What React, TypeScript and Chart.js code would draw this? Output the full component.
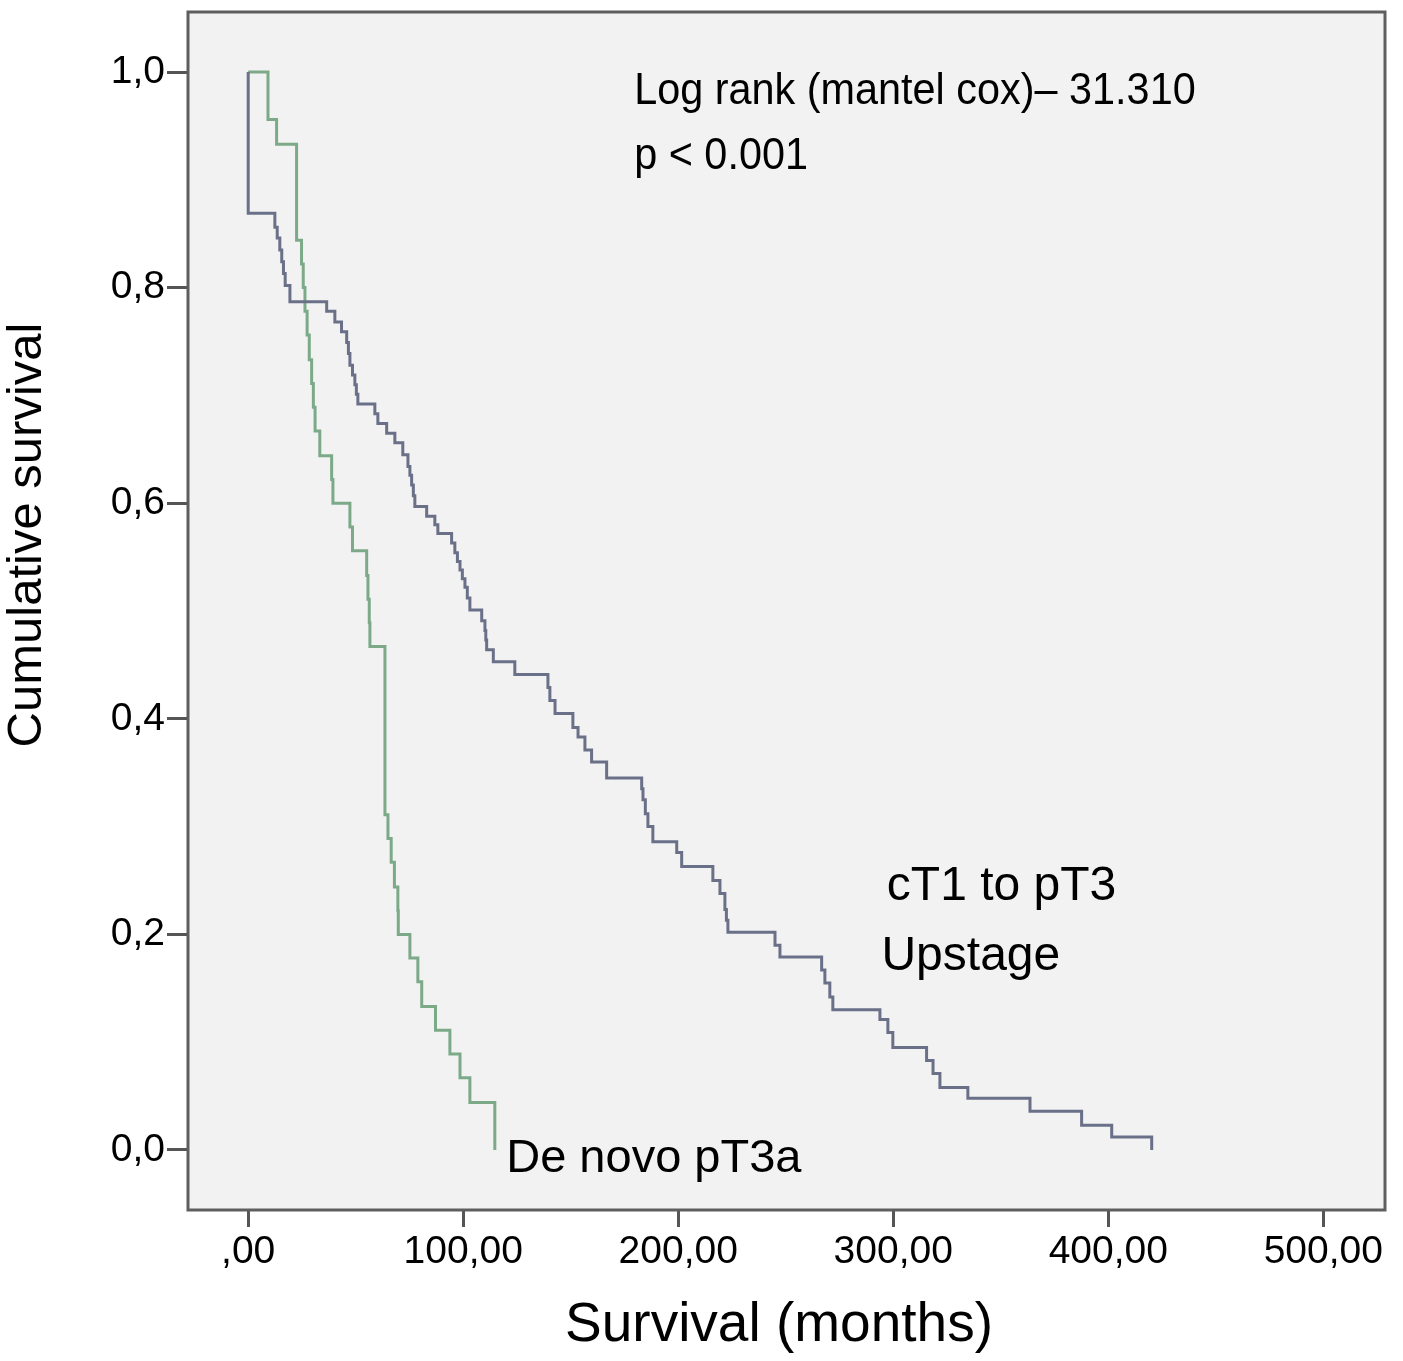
import { useEffect, useRef } from "react";
import { Chart, registerables } from "chart.js";

Chart.register(...registerables);

const FONT = '"Liberation Sans", Arial, Helvetica, sans-serif';

// axis ticks
const xTicks = [0, 100, 200, 300, 400, 500];
const xTickLabels = [",00", "100,00", "200,00", "300,00", "400,00", "500,00"];
const yTicks = [0, 0.2, 0.4, 0.6, 0.8, 1.0];
const yTickLabels = ["0,0", "0,2", "0,4", "0,6", "0,8", "1,0"];

// cT1 to pT3 upstage (months, cumulative survival)
const upstageTimes = [
  0, 0, 12.4, 13.5, 14.7, 15.6, 16.4, 17.2, 19.4, 36.5, 40.3, 43.4, 45.8, 46.6,
  47.3, 48.5, 49.6, 50.3, 51.0, 58.9, 60.3, 64.4, 68.2, 71.9, 74.3, 75.2, 76.0,
  76.8, 77.5, 83.0, 86.8, 88.2, 94.6, 96.1, 97.3, 98.5, 99.6, 100.8, 101.9,
  103.1, 108.6, 110.1, 110.5, 110.9, 114.0, 124.0, 139.4, 140.3, 142.7, 151.0,
  153.4, 156.6, 159.7, 166.7, 183.0, 183.6, 184.7, 185.9, 188.2, 199.3, 201.6,
  216.1, 219.4, 221.7, 222.4, 223.1, 245.0, 247.3, 266.7, 268.2, 270.5, 271.9,
  293.8, 297.5, 299.8, 315.5, 318.5, 321.7, 334.7, 363.6, 387.6, 401.6, 420.2,
];
const upstageSurvival = [
  1.0, 0.869, 0.856, 0.846, 0.835, 0.824, 0.813, 0.802, 0.787, 0.778, 0.768,
  0.759, 0.749, 0.739, 0.728, 0.719, 0.71, 0.701, 0.692, 0.683, 0.674, 0.665,
  0.656, 0.645, 0.634, 0.626, 0.617, 0.607, 0.597, 0.588, 0.58, 0.572, 0.563,
  0.554, 0.546, 0.538, 0.53, 0.522, 0.512, 0.501, 0.491, 0.482, 0.473, 0.464,
  0.453, 0.441, 0.429, 0.417, 0.405, 0.392, 0.383, 0.371, 0.36, 0.345, 0.335,
  0.325, 0.312, 0.3, 0.286, 0.276, 0.263, 0.25, 0.238, 0.223, 0.213, 0.202,
  0.19, 0.179, 0.167, 0.155, 0.142, 0.13, 0.121, 0.109, 0.095, 0.083, 0.071,
  0.058, 0.048, 0.036, 0.023, 0.012, 0.0,
];

// de novo pT3a
const deNovoTimes = [
  0, 9.2, 13.2, 22.5, 24.8, 25.6, 26.4, 27.4, 28.4, 29.5, 30.3, 31.1, 33.3,
  38.8, 39.4, 47.3, 48.5, 55.1, 55.7, 56.3, 56.6, 63.6, 65.0, 66.5, 68.0, 69.6,
  69.8, 75.2, 78.9, 80.7, 87.1, 93.8, 98.5, 103.1, 114.7,
];
const deNovoSurvival = [
  1.0, 0.956, 0.933, 0.844, 0.822, 0.8, 0.778, 0.756, 0.733, 0.711, 0.689,
  0.667, 0.644, 0.622, 0.6, 0.578, 0.556, 0.533, 0.511, 0.489, 0.467, 0.311,
  0.289, 0.267, 0.244, 0.222, 0.2, 0.178, 0.156, 0.133, 0.111, 0.089, 0.067,
  0.044, 0.0,
];

// text placed in data coordinates (left edge, baseline)
const notes = [
  { text: "Log rank (mantel cox)\u2013 31.310", t: 179.5, s: 0.9708, size: 45, squeeze: 0.92 },
  { text: "p < 0.001", t: 179.5, s: 0.9104, size: 45, squeeze: 0.92 },
  { text: "cT1 to pT3", t: 297.0, s: 0.232, size: 48, squeeze: 1 },
  { text: "Upstage", t: 294.5, s: 0.167, size: 48, squeeze: 1 },
  { text: "De novo pT3a", t: 120.0, s: -0.0204, size: 47, squeeze: 1 },
];

const toPoints = (xs: number[], ys: number[]) => xs.map((x, i) => ({ x, y: ys[i] }));

const kmDecor = {
  id: "kmDecor",
  beforeDraw(chart: any) {
    const { ctx, chartArea: a } = chart;
    ctx.save();
    ctx.fillStyle = "#f2f2f2";
    ctx.fillRect(a.left, a.top, a.right - a.left, a.bottom - a.top);
    ctx.restore();
  },
  afterDraw(chart: any) {
    const { ctx, chartArea: a, scales } = chart;
    const sx = scales.x;
    const sy = scales.y;
    ctx.save();
    ctx.strokeStyle = "#5e5e5e";
    ctx.lineWidth = 3;
    ctx.strokeRect(a.left, a.top, a.right - a.left, a.bottom - a.top);

    ctx.fillStyle = "#000";
    ctx.textAlign = "left";
    ctx.textBaseline = "alphabetic";
    notes.forEach((n) => {
      ctx.save();
      ctx.font = `${n.size}px ${FONT}`;
      ctx.translate(sx.getPixelForValue(n.t), sy.getPixelForValue(n.s));
      ctx.scale(n.squeeze, 1);
      ctx.fillText(n.text, 0, 0);
      ctx.restore();
    });

    // axis titles
    ctx.textAlign = "center";
    ctx.textBaseline = "middle";
    ctx.font = `55px ${FONT}`;
    ctx.fillText("Survival (months)", 779, 1326);
    ctx.save();
    ctx.font = `49px ${FONT}`;
    ctx.translate(27, 535);
    ctx.rotate(-Math.PI / 2);
    ctx.fillText("Cumulative survival", 0, 0);
    ctx.restore();
    ctx.restore();
  },
};

const KaplanMeier: React.FC = () => {
  const canvasRef = useRef<HTMLCanvasElement>(null);

  useEffect(() => {
    const ctx = canvasRef.current?.getContext("2d");
    if (!ctx) return;

    const chart = new Chart(ctx, {
      type: "line",
      data: {
        datasets: [
          {
            label: "cT1 to pT3 Upstage",
            data: toPoints(upstageTimes, upstageSurvival),
            borderColor: "#6b7089",
            borderWidth: 3,
            stepped: "before",
            pointRadius: 0,
            fill: false,
          },
          {
            label: "De novo pT3a",
            data: toPoints(deNovoTimes, deNovoSurvival),
            borderColor: "#7caa89",
            borderWidth: 3,
            stepped: "before",
            pointRadius: 0,
            fill: false,
          },
        ],
      },
      options: {
        animation: false,
        responsive: true,
        maintainAspectRatio: false,
        layout: { padding: { top: 12, right: 18, left: 0, bottom: 0 } },
        plugins: {
          legend: { display: false },
          tooltip: { enabled: false },
        },
        scales: {
          x: {
            type: "linear",
            min: -28,
            max: 528.7,
            afterBuildTicks: (scale: any) => {
              scale.ticks = xTicks.map((value) => ({ value }));
            },
            afterFit: (scale: any) => {
              scale.height = 151;
              scale.paddingLeft = 0;
              scale.paddingRight = 0;
            },
            border: { display: false },
            grid: {
              drawOnChartArea: false,
              drawTicks: true,
              tickLength: 17,
              tickWidth: 3,
              tickColor: "#555",
            },
            ticks: {
              autoSkip: false,
              maxRotation: 0,
              padding: 2,
              color: "#000",
              font: { family: FONT, size: 39 },
              callback: (_v: any, i: number) => xTickLabels[i],
            },
          },
          y: {
            type: "linear",
            min: -0.0557,
            max: 1.0557,
            afterBuildTicks: (scale: any) => {
              scale.ticks = yTicks.map((value) => ({ value }));
            },
            afterFit: (scale: any) => {
              scale.width = 188;
              scale.paddingTop = 0;
              scale.paddingBottom = 0;
            },
            border: { display: false },
            grid: {
              drawOnChartArea: false,
              drawTicks: true,
              tickLength: 21,
              tickWidth: 3,
              tickColor: "#555",
            },
            ticks: {
              autoSkip: false,
              padding: 2,
              color: "#000",
              font: { family: FONT, size: 39 },
              callback: (_v: any, i: number) => yTickLabels[i],
            },
          },
        },
      },
      plugins: [kmDecor],
    });

    return () => {
      chart.destroy();
    };
  }, []);

  return (
    <div
      style={{
        position: "absolute",
        left: 0,
        top: 0,
        width: 1403,
        height: 1361,
        background: "#fff",
      }}
    >
      <canvas ref={canvasRef} />
    </div>
  );
};

export default function App() {
  return <KaplanMeier />;
}
